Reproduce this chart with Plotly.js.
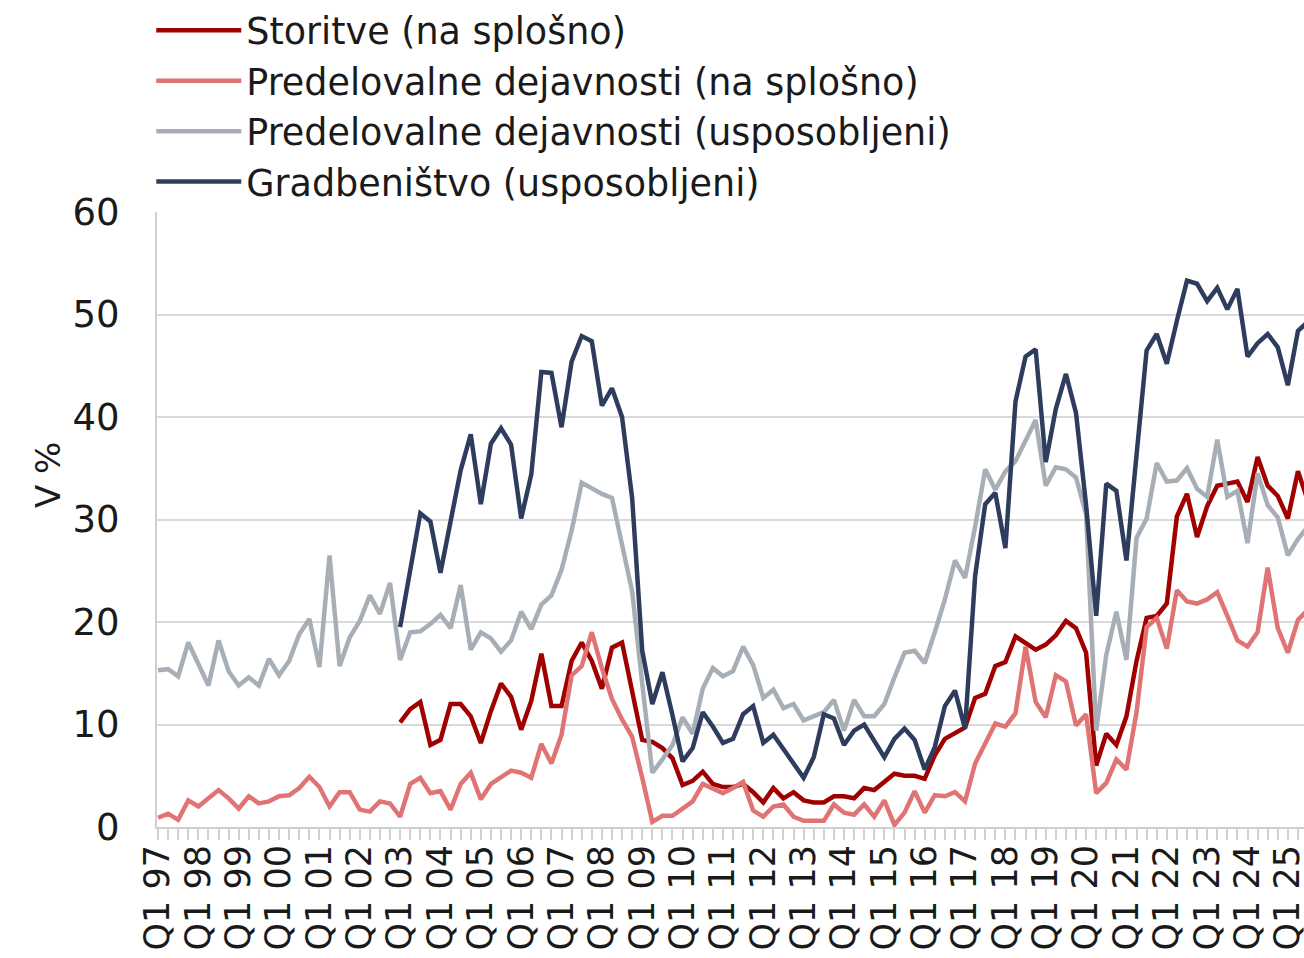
<!DOCTYPE html>
<html>
<head>
<meta charset="utf-8">
<script src="https://cdn.plot.ly/plotly-3.0.1.min.js"></script>
<style>
html,body{margin:0;padding:0;background:#fff;}
#chart{width:1304px;height:958px;}
</style>
</head>
<body>
<div id="chart"></div>
<script>
// Years shown on the axis (Q1 of each year gets a label)
const yearLabels = ["97","98","99","00","01","02","03","04","05","06","07","08","09","10",
  "11","12","13","14","15","16","17","18","19","20","21","22","23","24","25"];
const quarterNames = ["Q1","Q2","Q3","Q4"];
const nQuarters = 115; // Q1 97 ... Q3 25

const quarters = [];
yearLabels.forEach(y => quarterNames.forEach(q => quarters.push(q + " " + y)));
const categories = quarters.slice(0, nQuarters);
const tickText = categories.map(c => c.startsWith("Q1") ? c : "");

// Series names
const seriesNames = [
  "Storitve (na splošno)",
  "Predelovalne dejavnosti (na splošno)",
  "Predelovalne dejavnosti (usposobljeni)",
  "Gradbeništvo (usposobljeni)"
];

// Storitve (na splošno) – starts Q1 03
const storitve = [
  null,null,null,null,null,null,null,null,null,null,
  null,null,null,null,null,null,null,null,null,null,
  null,null,null,null,
  10.2,11.5,12.2,8.0,8.5,12.0,12.0,10.8,8.2,11.3,
  14.0,12.7,9.5,12.3,16.9,11.8,11.8,16.2,18.0,16.2,
  13.5,17.5,18.0,13.0,8.5,8.3,7.7,6.7,4.1,4.5,
  5.4,4.2,3.9,3.9,4.2,3.4,2.4,3.8,2.8,3.4,
  2.6,2.4,2.4,3.0,3.0,2.8,3.8,3.6,4.4,5.2,
  5.0,5.0,4.7,7.0,8.6,9.2,9.7,12.6,13.0,15.7,
  16.1,18.6,18.0,17.3,17.8,18.7,20.1,19.4,17.0,6.0,
  9.1,8.0,10.8,16.2,20.4,20.6,21.8,30.3,32.5,28.3,
  31.3,33.3,33.5,33.7,31.7,36.1,33.3,32.3,30.1,34.7,
  31.8
];

// Predelovalne dejavnosti (na splošno)
const predSplosno = [
  0.9,1.3,0.7,2.6,2.0,2.8,3.6,2.8,1.8,3.0,
  2.3,2.5,3.0,3.1,3.8,4.9,3.9,2.0,3.4,3.4,
  1.7,1.5,2.5,2.3,1.0,4.2,4.8,3.3,3.5,1.7,
  4.2,5.3,2.7,4.2,4.8,5.5,5.3,4.8,8.1,6.2,
  9.0,14.8,15.7,19.0,15.5,12.5,10.5,8.8,4.8,0.5,
  1.1,1.1,1.8,2.5,4.2,3.7,3.3,3.8,4.4,1.6,
  1.0,2.0,2.2,1.0,0.6,0.6,0.6,2.2,1.4,1.2,
  2.2,1.0,2.6,0.2,1.4,3.5,1.4,3.1,3.0,3.4,
  2.5,6.2,8.1,10.1,9.8,11.1,17.6,12.2,10.7,14.8,
  14.2,9.9,11.0,3.3,4.3,6.6,5.6,11.2,19.5,20.4,
  17.4,23.1,22.0,21.8,22.2,22.9,20.6,18.2,17.6,19.0,
  25.3,19.4,17.0,20.2,21.2
];

// Predelovalne dejavnosti (usposobljeni)
const predUsposobljeni = [
  15.3,15.4,14.7,18.0,15.9,13.8,18.2,15.2,13.8,14.6,
  13.8,16.4,14.8,16.2,18.8,20.3,15.6,26.5,15.7,18.5,
  20.1,22.6,20.8,23.8,16.3,19.0,19.1,19.8,20.7,19.4,
  23.6,17.3,19.0,18.4,17.1,18.2,21.0,19.3,21.7,22.6,
  25.1,28.9,33.6,33.0,32.5,32.1,27.4,23.0,14.0,5.3,
  6.6,8.0,10.7,9.1,13.5,15.5,14.7,15.2,17.6,15.8,
  12.6,13.4,11.6,12.0,10.4,10.8,11.2,12.4,9.4,12.4,
  10.8,10.8,12.0,14.6,17.0,17.2,16.0,19.0,22.2,26.0,
  24.3,29.3,34.9,32.9,34.7,35.7,37.8,39.7,33.3,35.1,
  34.9,34.1,30.5,9.4,16.8,21.0,16.3,28.2,30.1,35.5,
  33.7,33.8,35.0,33.0,32.2,37.8,32.2,32.8,27.7,34.5,
  31.4,30.2,26.5,28.1,29.3
];

// Gradbeništvo (usposobljeni) – starts Q1 03
const gradbenistvo = [
  null,null,null,null,null,null,null,null,null,null,
  null,null,null,null,null,null,null,null,null,null,
  null,null,null,null,
  19.5,25.0,30.6,29.8,24.8,29.8,34.8,38.3,31.5,37.4,
  38.9,37.3,30.1,34.4,44.4,44.3,39.0,45.4,47.9,47.4,
  41.1,42.8,40.0,32.1,17.2,12.0,15.1,10.9,6.4,7.7,
  11.2,9.8,8.2,8.6,11.0,11.8,8.2,9.0,7.6,6.2,
  4.8,6.8,11.0,10.6,8.0,9.4,10.0,8.4,6.8,8.6,
  9.6,8.5,5.6,7.8,11.8,13.3,9.6,24.5,31.5,32.6,
  27.2,41.5,45.9,46.6,35.6,40.8,44.2,40.4,31.4,20.6,
  33.5,32.8,26.0,36.3,46.5,48.1,45.2,49.4,53.3,53.0,
  51.3,52.6,50.5,52.5,45.9,47.2,48.1,46.8,43.1,48.4,
  49.3
];

const seriesValues = [storitve, predSplosno, predUsposobljeni, gradbenistvo];
const seriesColors = ["#A00000", "#E07474", "#A7AEB5", "#2E3D5E"];

const FONT = "DejaVu Sans, Liberation Sans, Arial, sans-serif";
const TEXT = "#1a1a1a";

const traces = seriesValues.map((vals, k) => ({
  type: "scatter",
  mode: "lines",
  name: seriesNames[k],
  x: categories,
  y: vals,
  connectgaps: false,
  line: {color: seriesColors[k], width: 4.5},
  hoverinfo: "x+y+name"
}));

const layout = {
  width: 1304,
  height: 958,
  margin: {l: 157, r: 0, t: 212, b: 131, pad: 0, autoexpand: false},
  paper_bgcolor: "#ffffff",
  plot_bgcolor: "#ffffff",
  font: {family: FONT, color: TEXT},
  showlegend: true,
  legend: {
    xref: "container", yref: "container",
    x: 0.116, y: 1.005, xanchor: "left", yanchor: "top",
    orientation: "v",
    font: {family: FONT, size: 36.5, color: TEXT},
    itemwidth: 85,
    tracegroupgap: 0,
    bgcolor: "rgba(0,0,0,0)",
    traceorder: "normal"
  },
  xaxis: {
    type: "category",
    range: [-0.1, 113.6],
    tickmode: "array",
    tickvals: categories,
    ticktext: tickText,
    tickangle: -90,
    ticks: "outside",
    ticklen: 11,
    tickwidth: 2,
    tickcolor: "#D0D0D0",
    showline: true,
    linecolor: "#D0D0D0",
    linewidth: 2,
    showgrid: false,
    zeroline: false,
    automargin: false,
    ticklabelstandoff: -9,
    tickfont: {family: FONT, size: 35, color: TEXT}
  },
  yaxis: {
    range: [0, 60],
    tickmode: "linear",
    tick0: 0,
    dtick: 10,
    showgrid: true,
    gridcolor: "#D9D9D9",
    gridwidth: 2,
    showline: true,
    linecolor: "#D0D0D0",
    linewidth: 2,
    ticks: "",
    zeroline: false,
    automargin: false,
    ticklabelstandoff: 28,
    tickfont: {family: FONT, size: 37, color: TEXT}
  },
  annotations: [{
    text: "V %",
    xref: "paper", yref: "paper",
    x: (48 - 157) / 1147, y: (827 - 475) / 615,
    xanchor: "center", yanchor: "middle",
    textangle: -90,
    showarrow: false,
    font: {family: FONT, size: 34, color: TEXT}
  }]
};

Plotly.newPlot("chart", traces, layout, {displayModeBar: false, staticPlot: true});
</script>
</body>
</html>
